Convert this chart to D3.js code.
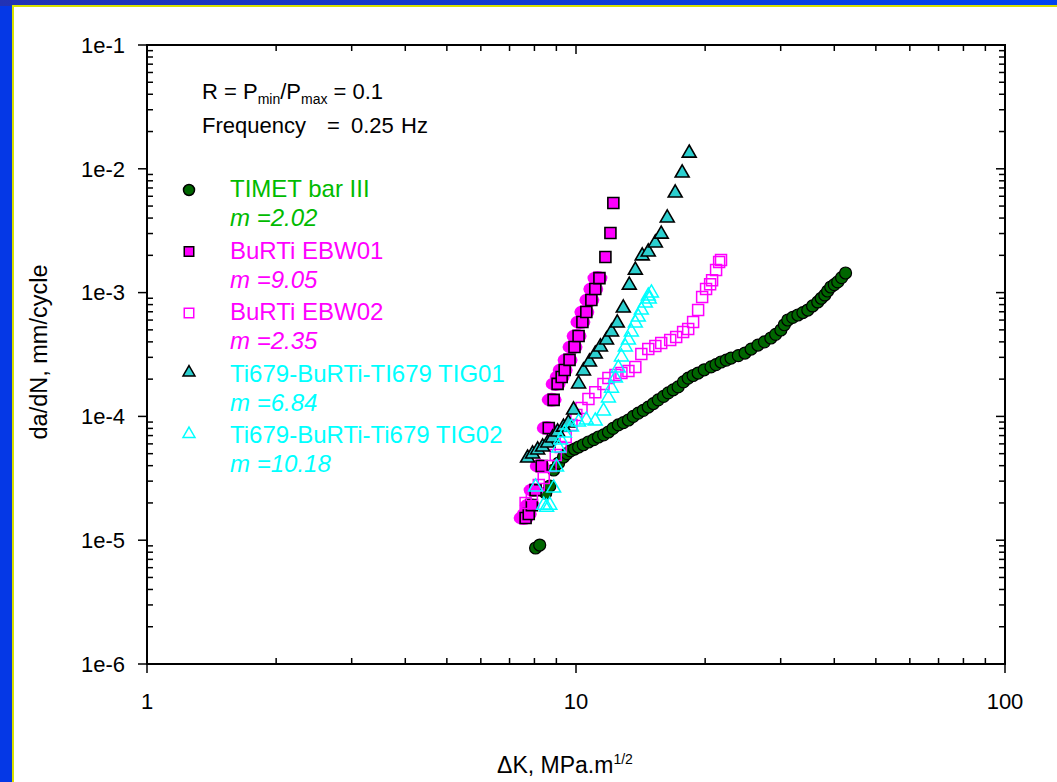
<!DOCTYPE html>
<html>
<head>
<meta charset="utf-8">
<script src="https://cdn.jsdelivr.net/npm/d3@7"></script>
<style>
  body { margin: 0; background: #ffffff; }
  svg { display: block; font-family: 'Liberation Sans', Arial, sans-serif; }
</style>
</head>
<body>
<div id="chart"></div>
<script>
// TIMET bar III
const timetK = [8.05, 8.23, 8.50, 8.69, 8.87, 9.11, 9.35, 9.53, 9.71, 9.92, 10.14, 10.4, 10.69, 11.0, 11.28, 11.6, 11.90, 12.2, 12.55, 12.9,
  13.25, 13.6, 13.97, 14.35, 14.74, 15.15, 15.55, 16.0, 16.41, 16.85, 17.30, 17.8, 18.26, 18.75, 19.26, 19.9, 20.64, 21.2, 21.78, 22.4,
  22.98, 23.9, 24.77, 25.6, 26.55, 27.5, 28.46, 29.2, 30.03, 30.6, 31.17, 32.0, 32.90, 33.8, 34.70, 35.6, 36.60, 37.3, 38.01, 38.6,
  39.25, 40.0, 40.75, 41.6, 42.50]
const timetRate = [8.65e-6, 9.14e-6, 2.40e-5, 2.74e-5, 3.69e-5, 4.20e-5, 4.70e-5, 5.0e-5, 5.26e-5, 5.45e-5, 5.66e-5, 5.9e-5, 6.21e-5, 6.5e-5, 6.82e-5, 7.1e-5, 7.48e-5, 8.0e-5, 8.53e-5, 8.9e-5,
  9.35e-5, 1.0e-4, 1.064e-4, 1.12e-4, 1.19e-4, 1.27e-4, 1.36e-4, 1.45e-4, 1.55e-4, 1.64e-4, 1.73e-4, 1.9e-4, 2.04e-4, 2.14e-4, 2.24e-4, 2.38e-4, 2.51e-4, 2.62e-4, 2.75e-4, 2.85e-4,
  2.96e-4, 3.1e-4, 3.25e-4, 3.5e-4, 3.77e-4, 4.0e-4, 4.30e-4, 4.6e-4, 4.99e-4, 5.5e-4, 6.01e-4, 6.3e-4, 6.59e-4, 6.9e-4, 7.23e-4, 7.8e-4, 8.40e-4, 9.0e-4, 9.57e-4, 1.03e-3,
  1.11e-3, 1.16e-3, 1.22e-3, 1.32e-3, 1.44e-3]

// BuRTi EBW01
const ebw01K = [7.63, 7.76, 7.89, 8.05, 8.32, 8.64, 8.87, 9.06, 9.26, 9.41, 9.66, 9.92, 10.14, 10.35, 10.57, 10.86, 11.09, 11.34, 11.71, 12.03, 12.22]
const ebw01Rate = [1.51e-5, 1.63e-5, 1.92e-5, 2.54e-5, 3.97e-5, 8.05e-5, 1.36e-4, 1.83e-4, 2.08e-4, 2.37e-4, 2.86e-4, 3.64e-4, 4.46e-4, 5.79e-4, 6.97e-4, 8.71e-4, 1.07e-3, 1.31e-3, 1.94e-3, 3.03e-3, 5.29e-3]

// BuRTi EBW02
const ebw02K = [7.63, 7.89, 8.19, 8.41, 8.73, 8.97, 9.21, 9.46, 9.76, 10.02, 10.30, 10.69, 11.09, 11.59, 11.90, 12.36, 12.76, 13.25, 13.75, 14.20,
  14.74, 15.31, 15.80, 16.58, 17.12, 17.77, 18.26, 18.75, 19.26, 19.68, 20.10, 20.54, 20.76, 21.21, 21.56, 21.78]
const ebw02Rate = [2.00e-5, 2.32e-5, 2.79e-5, 3.18e-5, 3.97e-5, 4.88e-5, 5.66e-5, 6.82e-5, 8.53e-5, 1.026e-4, 1.17e-4, 1.38e-4, 1.57e-4, 1.83e-4, 2.04e-4, 2.16e-4, 2.24e-4, 2.33e-4, 2.51e-4, 3.19e-4,
  3.50e-4, 3.71e-4, 3.92e-4, 4.14e-4, 4.38e-4, 4.81e-4, 5.08e-4, 5.79e-4, 7.23e-4, 9.21e-4, 1.07e-3, 1.17e-3, 1.26e-3, 1.52e-3, 1.77e-3, 1.83e-3]

// Ti679-BuRTi-TI679 TIG01
const tig01K = [7.71, 7.92, 8.14, 8.36, 8.59, 8.82, 9.06, 9.35, 9.60, 9.87, 10.14, 10.41, 10.75, 11.09, 11.40, 11.78, 12.10, 12.48, 12.89, 13.31,
  13.75, 14.27, 14.74, 15.31, 15.80, 16.32, 17.03, 17.68, 18.36]
const tig01Rate = [4.61e-5, 4.97e-5, 5.36e-5, 5.66e-5, 6.10e-5, 6.70e-5, 7.48e-5, 8.20e-5, 8.85e-5, 1.127e-4, 1.83e-4, 2.33e-4, 2.75e-4, 3.19e-4, 3.64e-4, 4.14e-4, 4.81e-4, 5.68e-4, 7.51e-4, 1.15e-3,
  1.52e-3, 1.98e-3, 2.13e-3, 2.52e-3, 2.97e-3, 4.01e-3, 6.38e-3, 9.25e-3, 1.34e-2]

// Ti679-BuRTi-Ti679 TIG02
const tig02K = [8.05, 8.41, 8.54, 8.69, 8.87, 9.01, 9.11, 9.21, 9.40, 9.76, 10.14, 10.57, 11.09, 11.59, 11.90, 12.10, 12.36, 12.55, 12.76, 13.03,
  13.25, 13.46, 13.75, 13.97, 14.20, 14.51, 14.74, 14.99, 14.82]
const tig02Rate = [2.69e-5, 1.92e-5, 1.85e-5, 1.92e-5, 2.64e-5, 3.90e-5, 5.56e-5, 6.45e-5, 7.35e-5, 8.20e-5, 9.01e-5, 9.35e-5, 9.18e-5, 1.106e-4, 1.41e-4, 1.69e-4, 2.04e-4, 2.46e-4, 3.02e-4, 3.64e-4,
  4.14e-4, 4.81e-4, 5.68e-4, 6.35e-4, 7.23e-4, 8.24e-4, 9.39e-4, 9.93e-4, 8.87e-4]

const seriesNames = ['TIMET bar III', 'BuRTi EBW01', 'BuRTi EBW02', 'Ti679-BuRTi-TI679 TIG01', 'Ti679-BuRTi-Ti679 TIG02']
const slopes = ['2.02', '9.05', '2.35', '6.84', '10.18']
const xTickValues = [1, 10, 100]
const xTickLabels = ['1', '10', '100']
const yTickValues = [1e-6, 1e-5, 1e-4, 1e-3, 1e-2, 1e-1]
const yTickLabels = ['1e-6', '1e-5', '1e-4', '1e-3', '1e-2', '1e-1']

// page is 1057 x 782
var margin = {top: 45, right: 52, bottom: 118, left: 147},
  width = 1057,
  height = 782;

var svg = d3.select('#chart')
  .append('svg')
    .attr('width', width)
    .attr('height', height);

// blue frame with yellow edge
var defs = svg.append('defs');
var grad = defs.append('linearGradient').attr('id', 'topbar').attr('x1', '0').attr('x2', '1').attr('y1', '0').attr('y2', '0');
grad.append('stop').attr('offset', '0').attr('stop-color', '#2232b4');
grad.append('stop').attr('offset', '1').attr('stop-color', '#0044f2');

svg.append('rect').attr('x', 0).attr('y', 0).attr('width', width).attr('height', height).style('fill', '#0538e6');
svg.append('rect').attr('x', 0).attr('y', 0).attr('width', width).attr('height', 6).style('fill', 'url(#topbar)');
svg.append('rect').attr('x', 12).attr('y', 5).attr('width', width - 12).attr('height', height - 5).style('fill', '#d8e000');
svg.append('rect').attr('x', 14).attr('y', 7).attr('width', width - 14).attr('height', height - 7).style('fill', '#ffffff');

var x = d3.scaleLog().domain([1, 100]).range([margin.left, width - margin.right]);
var y = d3.scaleLog().domain([1e-6, 1e-1]).range([height - margin.bottom, margin.top]);

var x0 = x.range()[0], x1 = x.range()[1];
var y0 = y.range()[0], y1 = y.range()[1];

// minor ticks 2..9 in each decade
function minors(lo, hi) {
  var out = [];
  for (var d = lo; d < hi; d *= 10) {
    for (var m = 2; m <= 9; m++) out.push(d * m);
  }
  return out;
}
var xMinor = minors(1, 100);
var yMinor = minors(1e-6, 1e-1);

var axes = svg.append('g').style('stroke', '#000');

// bottom + top x ticks
xMinor.forEach(function(v) {
  axes.append('line').attr('x1', x(v)).attr('x2', x(v)).attr('y1', y0).attr('y2', y0 - 6).style('stroke-width', 1.5);
  axes.append('line').attr('x1', x(v)).attr('x2', x(v)).attr('y1', y1).attr('y2', y1 + 6).style('stroke-width', 1.5);
});
xTickValues.forEach(function(v) {
  axes.append('line').attr('x1', x(v)).attr('x2', x(v)).attr('y1', y0).attr('y2', y0 + 9).style('stroke-width', 1.5);
  axes.append('line').attr('x1', x(v)).attr('x2', x(v)).attr('y1', y1).attr('y2', y1 + 9).style('stroke-width', 1.5);
});

// left + right y ticks
yMinor.forEach(function(v) {
  axes.append('line').attr('x1', x0).attr('x2', x0 + 6).attr('y1', y(v)).attr('y2', y(v)).style('stroke-width', 1.5);
  axes.append('line').attr('x1', x1).attr('x2', x1 - 6).attr('y1', y(v)).attr('y2', y(v)).style('stroke-width', 1.5);
});
yTickValues.forEach(function(v) {
  axes.append('line').attr('x1', x0 - 9).attr('x2', x0).attr('y1', y(v)).attr('y2', y(v)).style('stroke-width', 1.5);
  axes.append('line').attr('x1', x1).attr('x2', x1 - 9).attr('y1', y(v)).attr('y2', y(v)).style('stroke-width', 1.5);
});

axes.append('rect')
  .attr('x', x0).attr('y', y1)
  .attr('width', x1 - x0).attr('height', y0 - y1)
  .style('fill', 'none')
  .style('stroke-width', 2);

// tick labels
svg.append('g').selectAll('text')
  .data(xTickValues)
  .enter()
  .append('text')
    .attr('x', d => x(d))
    .attr('y', y0 + 45)
    .attr('text-anchor', 'middle')
    .style('font-size', '22px')
    .text((d, i) => xTickLabels[i]);

svg.append('g').selectAll('text')
  .data(yTickValues)
  .enter()
  .append('text')
    .attr('x', x0 - 22)
    .attr('y', d => y(d))
    .attr('dy', '0.35em')
    .attr('text-anchor', 'end')
    .style('font-size', '22px')
    .text((d, i) => yTickLabels[i]);

// axis titles
var xt = svg.append('text')
  .attr('x', 565)
  .attr('y', 773)
  .attr('text-anchor', 'middle')
  .style('font-size', '23px');
xt.append('tspan').text('\u0394K, MPa.m');
xt.append('tspan').attr('dy', -9).style('font-size', '14px').text('1/2');

svg.append('text')
  .attr('transform', 'translate(47,' + 352 + ') rotate(-90)')
  .attr('text-anchor', 'middle')
  .style('font-size', '23.5px')
  .text('da/dN, mm/cycle');

// test conditions
var r1 = svg.append('text').attr('x', 202).attr('y', 99).style('font-size', '22px');
r1.append('tspan').text('R = P');
r1.append('tspan').attr('dy', 5).style('font-size', '14px').text('min');
r1.append('tspan').attr('dy', -5).text('/P');
r1.append('tspan').attr('dy', 5).style('font-size', '14px').text('max');
r1.append('tspan').attr('dy', -5).text(' = 0.1');

var r2 = svg.append('g').style('font-size', '22px');
r2.append('text').attr('x', 202).attr('y', 133).text('Frequency');
r2.append('text').attr('x', 327).attr('y', 133).text('=');
r2.append('text').attr('x', 351).attr('y', 133).text('0.25');
r2.append('text').attr('x', 401).attr('y', 133).text('Hz');

// markers
const green = '#006600', magenta = '#ff00ff', teal = '#2ccfcf', cyan = '#00ffff';
var sq = d3.symbol().type(d3.symbolSquare).size(121);
var tri = d3.symbol().type(d3.symbolTriangle).size(84);
var sqSmall = d3.symbol().type(d3.symbolSquare).size(90);
var triSmall = d3.symbol().type(d3.symbolTriangle).size(62);

function rows(ks, rates) {
  return ks.map((k, i) => ({k: k, r: rates[i]}));
}

var plot = svg.append('g');

// TIMET bar III
plot.append('g').selectAll('circle')
  .data(rows(timetK, timetRate))
  .enter()
  .append('circle')
    .attr('cx', d => x(d.k))
    .attr('cy', d => y(d.r))
    .attr('r', 6)
    .style('fill', green)
    .style('stroke', '#000')
    .style('stroke-width', 1.2);

// BuRTi EBW01 - magenta blobs behind squares
plot.append('g').selectAll('ellipse')
  .data(rows(ebw01K, ebw01Rate).slice(0, 18))
  .enter()
  .append('ellipse')
    .attr('cx', d => x(d.k) - 2)
    .attr('cy', d => y(d.r))
    .attr('rx', 10)
    .attr('ry', 7)
    .style('fill', magenta);

plot.append('g').selectAll('path')
  .data(rows(ebw01K, ebw01Rate))
  .enter()
  .append('path')
    .attr('d', sq)
    .attr('transform', d => 'translate(' + x(d.k) + ',' + y(d.r) + ')')
    .style('fill', magenta)
    .style('stroke', '#000')
    .style('stroke-width', 1.6);

// BuRTi EBW02
plot.append('g').selectAll('path')
  .data(rows(ebw02K, ebw02Rate))
  .enter()
  .append('path')
    .attr('d', sq)
    .attr('transform', d => 'translate(' + x(d.k) + ',' + y(d.r) + ')')
    .style('fill', 'none')
    .style('stroke', magenta)
    .style('stroke-width', 1.5);

// TIG01
plot.append('g').selectAll('path')
  .data(rows(tig01K, tig01Rate))
  .enter()
  .append('path')
    .attr('d', tri)
    .attr('transform', d => 'translate(' + x(d.k) + ',' + y(d.r) + ')')
    .style('fill', teal)
    .style('stroke', '#000')
    .style('stroke-width', 1.6);

// TIG02
plot.append('g').selectAll('path')
  .data(rows(tig02K, tig02Rate))
  .enter()
  .append('path')
    .attr('d', tri)
    .attr('transform', d => 'translate(' + x(d.k) + ',' + y(d.r) + ')')
    .style('fill', 'none')
    .style('stroke', cyan)
    .style('stroke-width', 1.5);

// LEGEND
var legendData = [
  { shape: 'circle', fill: green, stroke: '#000', text: '#00bb00' },
  { shape: 'square', fill: magenta, stroke: '#000', text: magenta },
  { shape: 'square', fill: '#fff', stroke: magenta, text: magenta },
  { shape: 'triangle', fill: teal, stroke: '#000', text: cyan },
  { shape: 'triangle', fill: '#fff', stroke: cyan, text: cyan }
];

var legendItems = svg.append('g')
  .selectAll('.legend-item')
  .data(legendData)
  .enter()
  .append('g')
  .attr('class', 'legend-item')
  .attr('transform', (d, i) => 'translate(0,' + (i * 61.5) + ')');

legendItems.each(function(d) {
  var g = d3.select(this);
  var m;
  if (d.shape === 'circle') {
    m = g.append('circle').attr('cx', 189).attr('cy', 190).attr('r', 5.5);
  } else {
    m = g.append('path')
      .attr('d', d.shape === 'square' ? sqSmall : triSmall)
      .attr('transform', 'translate(189,' + (d.shape === 'square' ? 190 : 188) + ')');
  }
  m.style('fill', d.fill).style('stroke', d.stroke).style('stroke-width', 1.5);
});

legendItems.append('text')
  .attr('x', 230)
  .attr('y', 197)
  .style('font-size', '24px')
  .style('fill', d => d.text)
  .text((d, i) => seriesNames[i]);

var slopeText = legendItems.append('text')
  .attr('x', 230)
  .attr('y', 226)
  .style('font-size', '24px')
  .style('font-style', 'italic')
  .style('fill', d => d.text);
slopeText.append('tspan').text('m');
slopeText.append('tspan').text((d, i) => ' =' + slopes[i]);
</script>
</body>
</html>
